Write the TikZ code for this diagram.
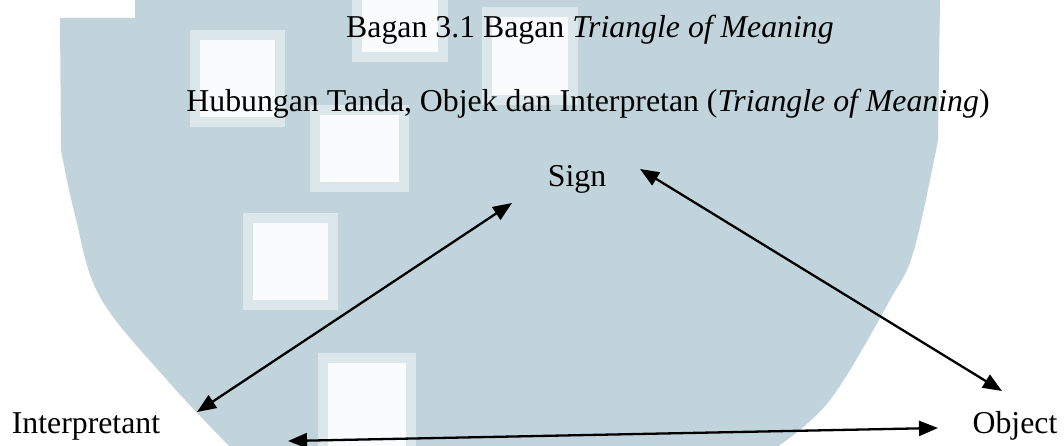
\documentclass[tikz,border=0pt]{standalone}
\usepackage{fontspec}
\setmainfont{Liberation Serif}
\usetikzlibrary{arrows.meta}
\definecolor{wmblue}{HTML}{C1D4DB}
\definecolor{wmedge}{HTML}{DCE7EB}
\definecolor{wminner}{HTML}{F9FBFC}
\tikzset{
  lbl/.style={font=\fontsize{31.8}{36}\selectfont, inner sep=0pt, anchor=base},
  link/.style={line width=2.3pt, {Triangle[length=19pt,width=15pt]}-{Triangle[length=19pt,width=15pt]}},
  sq/.style={fill=wmedge},
  sqin/.style={fill=wminner}
}
\newcommand{\wmsquare}[4]{%
  \fill[sq] (#1,#2) rectangle (#3,#4);
  \fill[sqin] (#1+10,#2+10) rectangle (#3-10,#4-10);}
\begin{document}
\begin{tikzpicture}[x=1pt,y=-1pt]
\useasboundingbox (0,0) rectangle (1064,446);
\fill[white] (0,0) rectangle (1064,446);
% watermark shield
\fill[wmblue] (60,18) -- (135,18) -- (135,0) -- (940,0) -- (938,140)
  -- plot[smooth, tension=0.6] coordinates {(938,140) (914,250) (890,300) (830,400) (777,447)}
  -- (230,447)
  -- plot[smooth, tension=0.6] coordinates {(230,447) (167,380) (100,297) (75,215) (61,150)}
  -- cycle;
\wmsquare{190}{30}{285}{127}
\wmsquare{352}{-12}{448}{62}
\wmsquare{482}{7}{578}{105}
\wmsquare{310}{105}{409}{192}
\wmsquare{243}{213}{338}{310}
\wmsquare{318}{353}{416}{460}
% texts
\node[lbl] (title) at (590,38) {Bagan 3.1 Bagan \textit{Triangle of Meaning}};
\node[lbl] (subtitle) at (588,112) {Hubungan Tanda, Objek dan Interpretan (\textit{Triangle of Meaning})};
\node[lbl] (sign) at (577,187) {Sign};
\node[lbl] (interp) at (86,433) {Interpretant};
\node[lbl] (object) at (1015,433) {Object};
% arrow end points
\coordinate (iS) at (197,412);
\coordinate (sI) at (512,203);
\coordinate (sO) at (640,169);
\coordinate (oS) at (1002,391);
\coordinate (iO) at (288,441);
\coordinate (oI) at (938,428);
\draw[link] (iS) -- (sI);
\draw[link] (sO) -- (oS);
\draw[link] (iO) -- (oI);
\end{tikzpicture}
\end{document}
